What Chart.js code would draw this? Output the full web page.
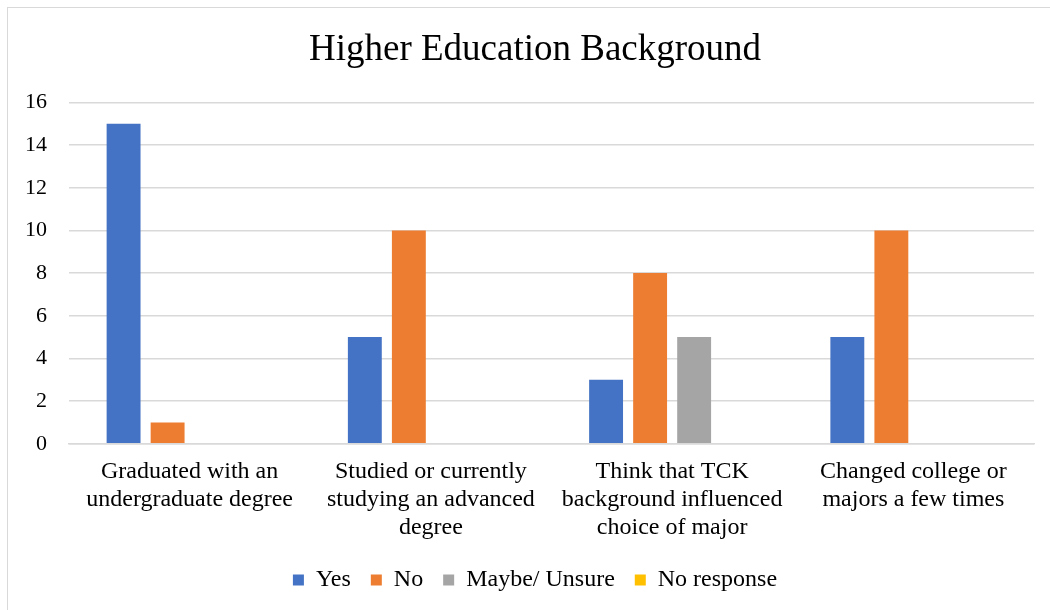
<!DOCTYPE html>
<html>
<head>
<meta charset="utf-8">
<script src="https://cdn.jsdelivr.net/npm/chart.js@4/dist/chart.umd.min.js"></script>
<style>
  html, body { margin: 0; padding: 0; background: #fff; }
  .wrap { position: relative; width: 1050px; height: 610px; overflow: hidden; }
  .frame { position: absolute; left: 7px; top: 7px; width: 1060px; height: 620px; border: 1px solid #d9d9d9; box-sizing: border-box; }
  canvas { position: absolute; left: 0; top: 0; }
</style>
</head>
<body>
<div class="wrap">
  <div class="frame"></div>
  <canvas id="chart" width="1050" height="610"></canvas>
</div>
<script>
const categories = [
  ['Graduated with an', 'undergraduate degree'],
  ['Studied or currently', 'studying an advanced', 'degree'],
  ['Think that TCK', 'background influenced', 'choice of major'],
  ['Changed college or', 'majors a few times']
];
const yesValues = [15, 5, 3, 5];
const noValues = [1, 10, 8, 10];
const maybeValues = [0, 0, 5, 0];
const noResponseValues = [0, 0, 0, 0];
const yTicks = [0, 2, 4, 6, 8, 10, 12, 14, 16];

const serif = "'Liberation Serif', 'Times New Roman', serif";

const ctx = document.getElementById('chart').getContext('2d');

new Chart(ctx, {
  type: 'bar',
  data: {
    labels: categories,
    datasets: [
      { label: 'Yes', data: yesValues, backgroundColor: '#4472c4' },
      { label: 'No', data: noValues, backgroundColor: '#ed7d31' },
      { label: 'Maybe/ Unsure', data: maybeValues, backgroundColor: '#a5a5a5' },
      { label: 'No response', data: noResponseValues, backgroundColor: '#ffc000' }
    ]
  },
  options: {
    responsive: false,
    animation: false,
    layout: { padding: { left: 20, right: 0, top: 8, bottom: 8 } },
    datasets: {
      bar: { barPercentage: 0.77, categoryPercentage: 0.73 }
    },
    plugins: {
      title: {
        display: true,
        text: 'Higher Education Background',
        color: '#000',
        font: { family: serif, size: 37, weight: 'normal' },
        padding: { top: 20, bottom: 30 }
      },
      legend: {
        position: 'bottom',
        labels: {
          color: '#000',
          font: { family: serif, size: 24 },
          boxWidth: 11,
          boxHeight: 11,
          padding: 20
        }
      },
      tooltip: { enabled: false }
    },
    scales: {
      x: {
        grid: { display: false },
        border: { color: '#d9d9d9', width: 1.5 },
        ticks: {
          color: '#000',
          font: { family: serif, size: 24, lineHeight: 1.17 },
          maxRotation: 0,
          padding: 6
        }
      },
      y: {
        min: 0,
        max: 16,
        afterFit: (scale) => { scale.width = 49; },
        afterBuildTicks: (scale) => { scale.ticks = yTicks.map((v) => ({ value: v })); },
        grid: { color: '#d9d9d9', lineWidth: 1.5, drawTicks: false },
        border: { display: false },
        ticks: {
          color: '#000',
          font: { family: serif, size: 22 },
          padding: 22
        }
      },
      // empty right-hand axis, only reserves the margin beside the plot
      yRight: {
        position: 'right',
        min: 0,
        max: 16,
        afterFit: (scale) => { scale.width = 16; },
        grid: { display: false },
        border: { display: false },
        ticks: { display: false }
      }
    }
  }
});
</script>
</body>
</html>
